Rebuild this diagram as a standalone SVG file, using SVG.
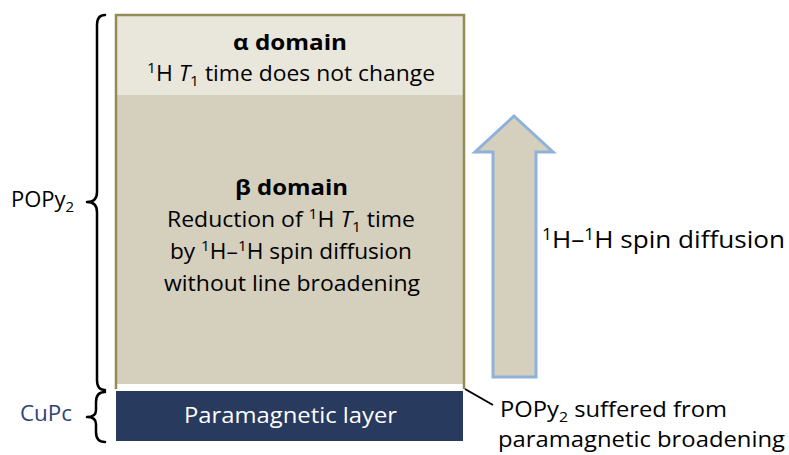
<svg xmlns="http://www.w3.org/2000/svg" width="789" height="455" viewBox="0 0 789 455">
<style>
text{font-family:"Open Sans","Liberation Sans",Arial,sans-serif;fill:#000;}
.t{font-size:22px;}
.n{font-size:21px;}
.l{font-size:24px;}
.b{font-weight:bold;}
.brace{fill:none;stroke:#000;stroke-width:2.5;stroke-linecap:round;stroke-linejoin:round;}
</style>
<rect width="789" height="455" fill="#fff"/>
<g id="popy2-layer">
<rect x="116" y="15" width="348" height="80" fill="#E9E6DC"/>
<rect x="116" y="95" width="348" height="289" fill="#D5CFBD"/>
<path d="M116,389 V15 H464 V389" fill="none" stroke="#948A54" stroke-width="2.5"/>
</g>
<g id="alpha-domain">
<text class="t b" x="233" y="50" textLength="114" lengthAdjust="spacingAndGlyphs">α domain</text>
<text class="t" x="147" y="81" textLength="288" lengthAdjust="spacingAndGlyphs"><tspan font-size="15" dy="-8">1</tspan><tspan dy="8">H </tspan><tspan font-style="italic">T</tspan><tspan font-size="15" dy="5">1</tspan><tspan dy="-5"> time does not change</tspan></text>
</g>
<g id="beta-domain">
<text class="t b" x="235" y="195" textLength="113" lengthAdjust="spacingAndGlyphs">β domain</text>
<text class="t" x="167" y="227" textLength="248" lengthAdjust="spacingAndGlyphs">Reduction of <tspan font-size="15" dy="-8">1</tspan><tspan dy="8">H </tspan><tspan font-style="italic">T</tspan><tspan font-size="15" dy="5">1</tspan><tspan dy="-5"> time</tspan></text>
<text class="t" x="170" y="259" textLength="242" lengthAdjust="spacingAndGlyphs">by <tspan font-size="15" dy="-8">1</tspan><tspan dy="8">H–</tspan><tspan font-size="15" dy="-8">1</tspan><tspan dy="8">H spin diffusion</tspan></text>
<text class="t" x="164" y="291" textLength="256" lengthAdjust="spacingAndGlyphs">without line broadening</text>
</g>
<g id="paramagnetic-layer">
<rect x="116" y="391" width="347" height="50" fill="#283A5E"/>
<text class="t" x="184" y="423" textLength="213" lengthAdjust="spacingAndGlyphs" style="fill:#fff">Paramagnetic layer</text>
</g>
<g id="popy2-brace">
<path class="brace" d="M105,15 Q97,15 97,25 V192 Q97,202 87,202 Q97,202 97,212 V380 Q97,390 105,390"/>
<text class="t" x="11" y="207">POPy<tspan font-size="15" dy="5">2</tspan></text>
</g>
<g id="cupc-brace">
<path class="brace" d="M105,392 Q96,392 96,402 V410 Q96,417 87,417 Q96,417 96,424 V432 Q96,442 105,442"/>
<text class="t" x="20" y="421" textLength="52" lengthAdjust="spacingAndGlyphs" style="fill:#2C4677">CuPc</text>
</g>
<g id="diffusion-arrow">
<path d="M514,116 L553,152 H536 V377 H493 V152 H475 Z" fill="#D5CFBD" stroke="#8FB1DA" stroke-width="3" stroke-linejoin="miter"/>
<text class="l" x="542" y="248" textLength="243" lengthAdjust="spacingAndGlyphs"><tspan font-size="16" dy="-8">1</tspan><tspan dy="8">H–</tspan><tspan font-size="16" dy="-8">1</tspan><tspan dy="8">H spin diffusion</tspan></text>
</g>
<g id="connectors">
<line x1="465" y1="389" x2="493" y2="405" stroke="#000" stroke-width="2"/>
</g>
<g id="broadening-note">
<text class="n" x="500" y="417" textLength="227" lengthAdjust="spacingAndGlyphs">POPy<tspan font-size="14" dy="5">2</tspan><tspan dy="-5"> suffered from</tspan></text>
<text class="n" x="498" y="447" textLength="287" lengthAdjust="spacingAndGlyphs">paramagnetic broadening</text>
</g>
</svg>
